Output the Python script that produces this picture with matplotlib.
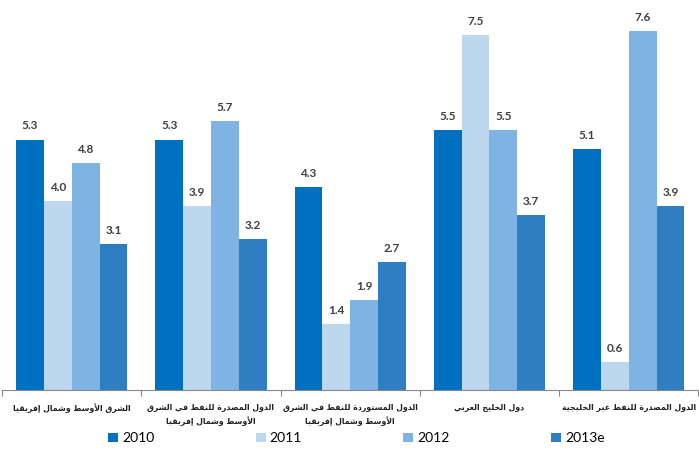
import matplotlib
matplotlib.use("Agg")
import matplotlib.pyplot as plt
import numpy as np

#--------------------------------------------------------------------------------------------------------------------#

# Datos del gráfico
categorias = [
    "الشرق الأوسط وشمال إفريقيا",
    "الدول المصدرة للنفط في الشرق\nالأوسط وشمال إفريقيا",
    "الدول المستوردة للنفط في الشرق\nالأوسط وشمال إفريقيا",
    "دول الخليج العربي",
    "الدول المصدرة للنفط غير الخليجية",
]
anios = ["2010", "2011", "2012", "2013e"]
v2010 = [5.3, 5.3, 4.3, 5.5, 5.1]
v2011 = [4.0, 3.9, 1.4, 7.5, 0.6]
v2012 = [4.8, 5.7, 1.9, 5.5, 7.6]
v2013e = [3.1, 3.2, 2.7, 3.7, 3.9]
colores = ["#0070C0", "#BDD7EE", "#7EB3E3", "#2E7EC1"]

#--------------------------------------------------------------------------------------------------------------------#

# Formas de presentación árabes: (aislada, final, inicial, medial)
FORMAS = {
    "ا": (0xFE8D, 0xFE8E, None, None),
    "أ": (0xFE83, 0xFE84, None, None),
    "إ": (0xFE87, 0xFE88, None, None),
    "ب": (0xFE8F, 0xFE90, 0xFE91, 0xFE92),
    "ة": (0xFE93, 0xFE94, None, None),
    "ت": (0xFE95, 0xFE96, 0xFE97, 0xFE98),
    "ج": (0xFE9D, 0xFE9E, 0xFE9F, 0xFEA0),
    "خ": (0xFEA5, 0xFEA6, 0xFEA7, 0xFEA8),
    "د": (0xFEA9, 0xFEAA, None, None),
    "ر": (0xFEAD, 0xFEAE, None, None),
    "س": (0xFEB1, 0xFEB2, 0xFEB3, 0xFEB4),
    "ش": (0xFEB5, 0xFEB6, 0xFEB7, 0xFEB8),
    "ص": (0xFEB9, 0xFEBA, 0xFEBB, 0xFEBC),
    "ط": (0xFEC1, 0xFEC2, 0xFEC3, 0xFEC4),
    "ع": (0xFEC9, 0xFECA, 0xFECB, 0xFECC),
    "غ": (0xFECD, 0xFECE, 0xFECF, 0xFED0),
    "ف": (0xFED1, 0xFED2, 0xFED3, 0xFED4),
    "ق": (0xFED5, 0xFED6, 0xFED7, 0xFED8),
    "ل": (0xFEDD, 0xFEDE, 0xFEDF, 0xFEE0),
    "م": (0xFEE1, 0xFEE2, 0xFEE3, 0xFEE4),
    "ن": (0xFEE5, 0xFEE6, 0xFEE7, 0xFEE8),
    "و": (0xFEED, 0xFEEE, None, None),
    "ي": (0xFEF1, 0xFEF2, 0xFEF3, 0xFEF4),
}
LAM_ALEF = {"ا": (0xFEFB, 0xFEFC), "أ": (0xFEF7, 0xFEF8), "إ": (0xFEF9, 0xFEFA)}


def une_izquierda(c):
    return c in FORMAS and FORMAS[c][2] is not None


def dar_forma(linea):
    salida = []
    i = 0
    while i < len(linea):
        c = linea[i]
        previo = linea[i - 1] if i > 0 else ""
        if c not in FORMAS:
            salida.append(c)
            i += 1
            continue
        if c == "ل" and i + 1 < len(linea) and linea[i + 1] in LAM_ALEF:
            aislada, final = LAM_ALEF[linea[i + 1]]
            salida.append(chr(final if une_izquierda(previo) else aislada))
            i += 2
            continue
        siguiente = linea[i + 1] if i + 1 < len(linea) else ""
        p = une_izquierda(previo)
        n = une_izquierda(c) and siguiente in FORMAS
        aislada, final, inicial, medial = FORMAS[c]
        if p and n:
            salida.append(chr(medial))
        elif p:
            salida.append(chr(final))
        elif n:
            salida.append(chr(inicial))
        else:
            salida.append(chr(aislada))
        i += 1
    return "".join(reversed(salida))


def texto_arabe(texto):
    return "\n".join(dar_forma(l) for l in texto.split("\n"))

#--------------------------------------------------------------------------------------------------------------------#

fig = plt.figure(figsize=(6.99, 4.5), dpi=100)
ax = fig.add_axes([0.003, 0.133, 0.996, 0.867])

x = np.arange(len(categorias))
ancho = 0.2
series = [v2010, v2011, v2012, v2013e]

for k, (serie, color, anio) in enumerate(zip(series, colores, anios)):
    pos = x + (k - 1.5) * ancho
    barras = ax.bar(pos, serie, ancho, color=color, label=anio)
    for b, v in zip(barras, serie):
        ax.text(b.get_x() + b.get_width() / 2, v + 0.17, f"{v:.1f}",
                ha="center", va="bottom", fontsize=8.5, fontweight="bold",
                color="#404040", family=["Lato", "DejaVu Sans"])

ax.set_xlim(-0.5, 4.5)
ax.set_ylim(0, 8.25)

for lado in ["top", "right", "left"]:
    ax.spines[lado].set_visible(False)
ax.spines["bottom"].set_color("#888888")
ax.set_yticks([])

# Marcas entre categorías
ax.set_xticks(np.arange(-0.5, 5.0, 1.0))
ax.set_xticklabels([])
ax.tick_params(axis="x", length=4, color="#888888", direction="out")

for i, cat in enumerate(categorias):
    ax.text(i, -0.27, texto_arabe(cat), ha="center", va="top",
            fontsize=5.6, fontweight="bold", color="#202020",
            family="DejaVu Sans", linespacing=1.5)

fig.legend(loc="lower center", bbox_to_anchor=(0.51, -0.015), ncol=4, frameon=False,
           handlelength=0.7, handleheight=0.7, handletextpad=0.3,
           columnspacing=7.3, prop={"family": ["Lato", "DejaVu Sans"], "size": 10})

fig.savefig("out.png", dpi=100)
